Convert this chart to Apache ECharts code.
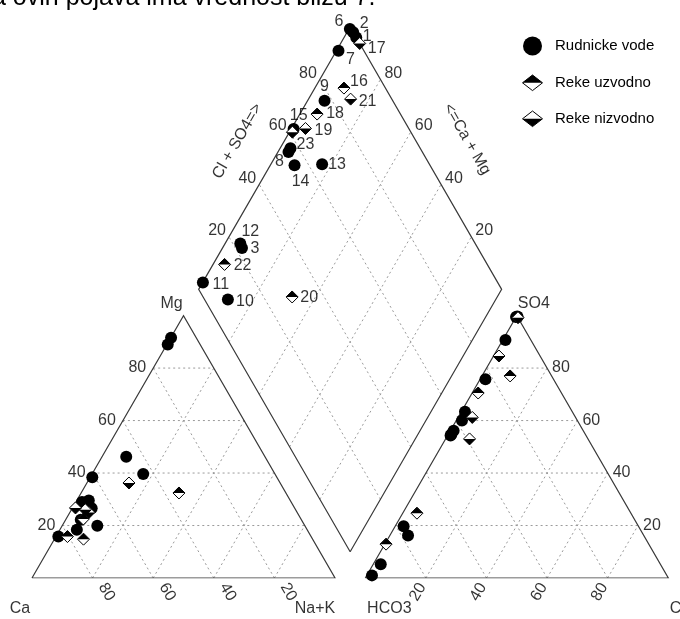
<!DOCTYPE html>
<html>
<head>
<meta charset="utf-8">
<script src="https://cdn.jsdelivr.net/npm/echarts@6/dist/echarts.min.js"></script>
<style>
html, body { margin: 0; padding: 0; background: #fff; }
#chart { width: 680px; height: 619px; }
</style>
</head>
<body>
<div id="chart"></div>
<script>
// uzorci (meq %): R - rudnicke vode, U - reke uzvodno, N - reke nizvodno
var sampleIds  = ['1', '2', '3', '6', '7', '8', '9', '10', '11', '12', '13', '14', '15', '23', '16', '17', '18', '19', '20', '21', '22', ''];
var sampleType = ['R', 'R', 'R', 'R', 'R', 'R', 'R', 'R', 'R', 'R', 'R', 'R', 'R', 'R', 'U', 'N', 'U', 'N', 'U', 'N', 'U', 'N'];
var naK = [4, 2, 6.4, 0.3, 0.7, 3.5, 5.6, 11.6, 0.1, 5, 16.9, 8, 0.8, 3.4, 9.6, 6.3, 5.7, 4.6, 32.3, 13.9, 3.8, 1];
var mg  = [29.5, 29, 26.6, 89, 38.4, 27.3, 18.4, 19.9, 91.6, 22.2, 39.6, 46.2, 15.8, 28.5, 14.8, 25, 22.5, 26, 32.4, 36.2, 15.8, 26.7];
var cl  = [0.5, 0.3, 6, 0, 0.9, 1, 1.8, 2.5, 1.7, 2.8, 1.2, 1, 1.9, 1.1, 9.3, 0.8, 2, 4.7, 4.7, 1.8, 0.4, 7.9];
var so4 = [99.5, 99.7, 16.2, 99.5, 90.7, 54.8, 75.7, 5.2, 1.0, 19.7, 63.4, 54.3, 60, 56.1, 77, 99.2, 70.5, 61.2, 24.7, 84.6, 12.9, 53];
var ticks = [20, 40, 60, 80];

// gde stoji broj uzorka u odnosu na tacku u rombu
var idOffset = {
    '1': [11, -1], '2': [11, -9], '3': [13, 1], '6': [-11, -7], '7': [12, 9], '8': [-9, 9],
    '9': [0, -14], '10': [17, 2], '11': [18, 2], '12': [10, -12], '13': [15, 0], '14': [6, 16],
    '15': [5, -13], '16': [15, -6], '17': [17, 5], '18': [18, 0], '19': [18, 2], '20': [17, 1],
    '21': [17, 2], '22': [18, 1], '23': [15, -4]
}

var GAP = 0.1
var H = Math.sqrt(3) / 2
var S = 303 // px po jedinici stranice trougla
var FONT = '"Liberation Sans", Arial, sans-serif'

function cat(nak, m) { return [nak / 100 + m / 200, H * m / 100] }
function ani(c, s) { return [1 + GAP + c / 100 + s / 200, H * s / 100] }
function dia(cm, cs) { return [1 + GAP / 2 + (cs - cm) / 200, GAP * H + H * (cs + cm) / 100] }
// offset labele se primenjuje u zarotiranom sistemu, pa ga vracamo unazad
function rotOff(dx, dy, deg) {
    var r = deg * Math.PI / 180
    return [dx * Math.cos(r) - dy * Math.sin(r), dx * Math.sin(r) + dy * Math.cos(r)]
}

var frame = [
    { coords: [cat(0, 0), cat(100, 0), cat(0, 100), cat(0, 0)] },
    { coords: [ani(0, 0), ani(100, 0), ani(0, 100), ani(0, 0)] },
    { coords: [dia(0, 0), dia(0, 100), dia(100, 100), dia(100, 0), dia(0, 0)] }
]
var gridLines = []
ticks.forEach(function(v) {
    gridLines.push({ coords: [cat(0, v), cat(100 - v, v)] })
    gridLines.push({ coords: [cat(v, 0), cat(v, 100 - v)] })
    gridLines.push({ coords: [cat(100 - v, 0), cat(0, 100 - v)] })
    gridLines.push({ coords: [ani(0, v), ani(100 - v, v)] })
    gridLines.push({ coords: [ani(v, 0), ani(v, 100 - v)] })
    gridLines.push({ coords: [ani(100 - v, 0), ani(0, 100 - v)] })
    gridLines.push({ coords: [dia(v, 0), dia(v, 100)] })
    gridLines.push({ coords: [dia(0, v), dia(100, v)] })
})

function pointsOf(types) {
    var out = []
    sampleIds.forEach(function(id, i) {
        if (types.indexOf(sampleType[i]) < 0) return
        out.push(cat(naK[i], mg[i]))
        out.push(ani(cl[i], so4[i]))
        out.push(dia(100 - naK[i], cl[i] + so4[i]))
    })
    return out
}

var idLabels = []
sampleIds.forEach(function(id, i) {
    if (!id) return
    idLabels.push({ value: dia(100 - naK[i], cl[i] + so4[i]), name: id, label: { offset: idOffset[id] } })
})

var textItems = []
function addText(pos, text, label) {
    textItems.push({ value: pos, name: text, label: label })
}
ticks.forEach(function(v) {
    addText(cat(0, v), String(v), { position: 'left', distance: 7 })
    addText(ani(100 - v, v), String(v), { position: 'right', distance: 5 })
    addText(cat(100 - v, 0), String(v), { position: 'inside', rotate: -60, offset: rotOff(14, 14, -60) })
    addText(ani(v, 0), String(v), { position: 'inside', rotate: 60, offset: rotOff(-8, 14, 60) })
    addText(dia(100, v), String(v), { position: 'left', distance: 3, offset: [0, -6] })
    addText(dia(v, 100), String(v), { position: 'right', distance: 4, offset: [0, -6] })
})
addText(cat(0, 100), 'Mg', { position: 'inside', offset: [-12, -12] })
addText(cat(0, 0), 'Ca', { position: 'inside', offset: [-12, 31] })
addText(cat(100, 0), 'Na+K', { position: 'inside', offset: [-20, 31] })
addText(ani(0, 0), 'HCO3', { position: 'inside', offset: [24, 31] })
addText(ani(100, 0), 'Cl', { position: 'inside', offset: [9, 31] })
addText(ani(0, 100), 'SO4', { position: 'inside', offset: [17, -12] })
addText(dia(100, 50), 'Cl + SO4=>', { position: 'inside', rotate: 60, offset: rotOff(-37, -17, 60) })
addText(dia(50, 100), '<=Ca + Mg', { position: 'inside', rotate: -60, offset: rotOff(41, -19, -60) })

var textSeriesBase = {
    type: 'scatter',
    symbolSize: 0,
    silent: true,
    clip: false,
    label: { show: true, formatter: '{b}', color: '#000', fontSize: 16, fontFamily: FONT }
}

var option = {
    animation: false,
    grid: { left: 32, top: 0, width: 2.1 * S, height: 578 },
    xAxis: { type: 'value', min: 0, max: 2.1, show: false },
    yAxis: { type: 'value', min: 0, max: 578 / S, show: false },
    graphic: [
        { type: 'text', x: -8, y: -2, style: { text: 'a ovih pojava ima vrednost blizu 7.', fontSize: 25, fontFamily: FONT, fill: '#000', verticalAlign: 'middle' } },
        { type: 'circle', shape: { cx: 532.5, cy: 46, r: 9.5 }, style: { fill: '#000' } },
        { type: 'text', x: 555, y: 46, style: { text: 'Rudnicke vode', fontSize: 15, fontFamily: FONT, fill: '#000', verticalAlign: 'middle' } },
        { type: 'polygon', shape: { points: [[532.5, 75], [542.5, 82.8], [532.5, 90.6], [522.5, 82.8]] }, style: { fill: '#fff', stroke: '#000', lineWidth: 1 } },
        { type: 'polygon', shape: { points: [[532.5, 75], [542.5, 82.8], [522.5, 82.8]] }, style: { fill: '#000' } },
        { type: 'text', x: 555, y: 82.5, style: { text: 'Reke uzvodno', fontSize: 15, fontFamily: FONT, fill: '#000', verticalAlign: 'middle' } },
        { type: 'polygon', shape: { points: [[532.5, 111], [542.5, 118.8], [532.5, 126.6], [522.5, 118.8]] }, style: { fill: '#fff', stroke: '#000', lineWidth: 1 } },
        { type: 'polygon', shape: { points: [[522.5, 118.8], [542.5, 118.8], [532.5, 126.6]] }, style: { fill: '#000' } },
        { type: 'text', x: 555, y: 118.5, style: { text: 'Reke nizvodno', fontSize: 15, fontFamily: FONT, fill: '#000', verticalAlign: 'middle' } }
    ],
    series: [
        {
            type: 'lines', coordinateSystem: 'cartesian2d', polyline: true, silent: true,
            lineStyle: { color: '#9a9a9a', width: 1, type: [2, 3], opacity: 1 },
            data: gridLines
        },
        {
            type: 'lines', coordinateSystem: 'cartesian2d', polyline: true, silent: true,
            lineStyle: { color: '#3a3a3a', width: 1.2, opacity: 1 },
            data: frame
        },
        {
            type: 'scatter', symbol: 'circle', symbolSize: 12, silent: true, clip: false,
            itemStyle: { color: '#000', opacity: 1 },
            data: pointsOf(['R'])
        },
        {
            type: 'scatter', symbol: 'diamond', symbolSize: [12, 12], silent: true, clip: false,
            itemStyle: { color: '#fff', borderColor: '#000', borderWidth: 1, opacity: 1 },
            data: pointsOf(['U', 'N'])
        },
        {
            type: 'scatter', symbol: 'triangle', symbolSize: [12, 6], symbolOffset: [0, -3], silent: true, clip: false,
            itemStyle: { color: '#000', opacity: 1 },
            data: pointsOf(['U'])
        },
        {
            type: 'scatter', symbol: 'path://M0,0L2,0L1,1Z', symbolSize: [12, 6], symbolOffset: [0, 3], silent: true, clip: false,
            itemStyle: { color: '#000', opacity: 1 },
            data: pointsOf(['N'])
        },
        Object.assign({}, textSeriesBase, { data: idLabels, label: Object.assign({}, textSeriesBase.label, { position: 'inside' }) }),
        Object.assign({}, textSeriesBase, { data: textItems })
    ]
}

var myChart = echarts.init(document.getElementById('chart'))
myChart.setOption(option)
window.addEventListener('resize', function() {
    myChart.resize()
})
</script>
</body>
</html>
